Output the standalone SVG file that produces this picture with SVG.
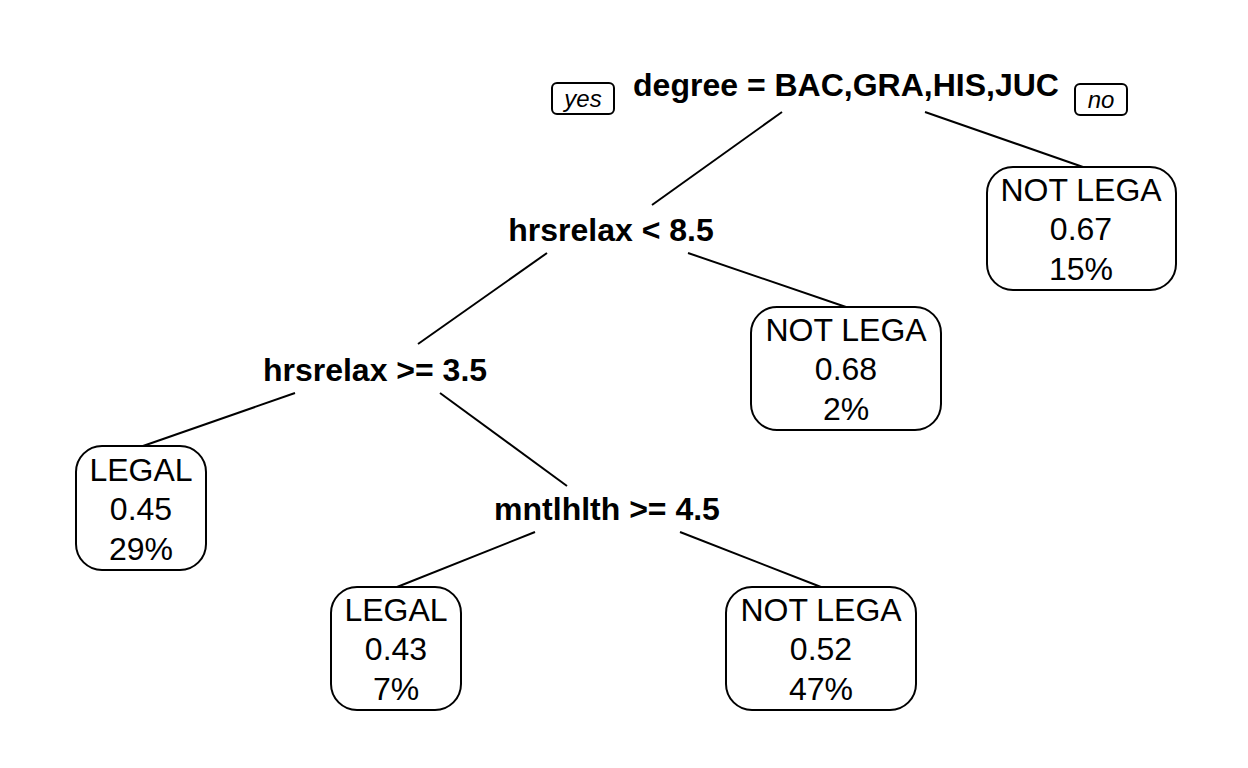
<svg xmlns="http://www.w3.org/2000/svg" width="1248" height="768" viewBox="0 0 1248 768">
<style>
.split{font-family:"Liberation Sans",Arial,sans-serif;font-weight:bold;font-size:32px;text-anchor:middle;fill:#000}
.leaf text{font-family:"Liberation Sans",Arial,sans-serif;font-size:32px;text-anchor:middle;fill:#000}
.box{fill:#fff;stroke:#000;stroke-width:2}
.lbl{font-family:"Liberation Sans",Arial,sans-serif;font-style:italic;font-size:24px;text-anchor:middle;fill:#000}
.edge line{stroke:#000;stroke-width:2}
</style>
<rect width="1248" height="768" fill="#fff"/>
<g id="connectors" class="edge">
<line x1="782" y1="112" x2="652" y2="205"/>
<line x1="925" y1="112" x2="1083" y2="167"/>
<line x1="547" y1="253" x2="418" y2="344"/>
<line x1="688" y1="253" x2="846" y2="307"/>
<line x1="295" y1="393" x2="143" y2="446"/>
<line x1="440" y1="393" x2="567" y2="486"/>
<line x1="535" y1="532" x2="397" y2="587"/>
<line x1="680" y1="532" x2="821" y2="587"/>
</g>
<g id="yes-label"><rect class="box" x="552" y="83" width="62" height="31" rx="5" stroke-width="1.5"/><text class="lbl" x="583" y="107">yes</text></g>
<g id="no-label"><rect class="box" x="1075" y="84" width="52" height="31" rx="5" stroke-width="1.5"/><text class="lbl" x="1101" y="108">no</text></g>
<g id="n1"><text class="split" x="846" y="96">degree = BAC,GRA,HIS,JUC</text></g>
<g id="n2"><text class="split" x="611" y="241">hrsrelax &lt; 8.5</text></g>
<g id="n3"><text class="split" x="375" y="381">hrsrelax &gt;= 3.5</text></g>
<g id="n6"><text class="split" x="607" y="520">mntlhlth &gt;= 4.5</text></g>
<g id="leaf3" class="leaf"><rect class="box" x="987" y="167" width="189" height="123" rx="26"/><text x="1081" y="201">NOT LEGA</text><text x="1081" y="240">0.67</text><text x="1081" y="280">15%</text></g>
<g id="leaf5" class="leaf"><rect class="box" x="751" y="307" width="190" height="123" rx="26"/><text x="846" y="341">NOT LEGA</text><text x="846" y="380">0.68</text><text x="846" y="420">2%</text></g>
<g id="leaf4" class="leaf"><rect class="box" x="76" y="446" width="130" height="124" rx="26"/><text x="141" y="481">LEGAL</text><text x="141" y="520">0.45</text><text x="141" y="560">29%</text></g>
<g id="leaf12" class="leaf"><rect class="box" x="331" y="587" width="130" height="123" rx="26"/><text x="396" y="621">LEGAL</text><text x="396" y="660">0.43</text><text x="396" y="700">7%</text></g>
<g id="leaf13" class="leaf"><rect class="box" x="726" y="587" width="190" height="123" rx="26"/><text x="821" y="621">NOT LEGA</text><text x="821" y="660">0.52</text><text x="821" y="700">47%</text></g>
</svg>
